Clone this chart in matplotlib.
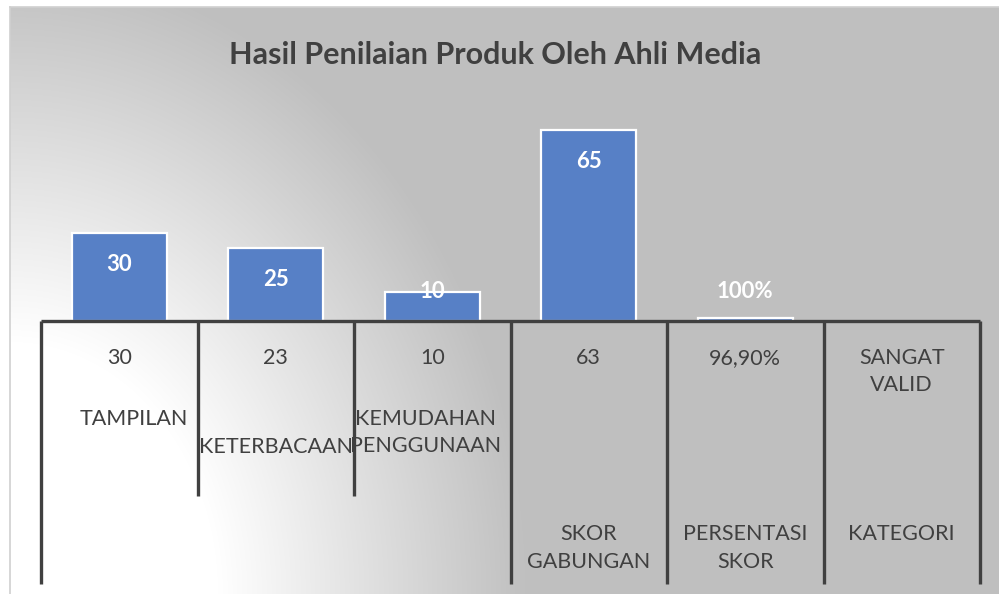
import numpy as np
import matplotlib
matplotlib.use("Agg")
from matplotlib import pyplot as plt

# data
bar_values = [30, 25, 10, 65, 1]
bar_labels = ["30", "25", "10", "65", "100%"]
row1 = ["30", "23", "10", "63", "96,90%", "SANGAT\nVALID"]
row2 = ["TAMPILAN", "KETERBACAAN", "KEMUDAHAN\nPENGGUNAAN"]
row3 = ["SKOR\nGABUNGAN", "PERSENTASI\nSKOR", "KATEGORI"]
title = "Hasil Penilaian Produk Oleh Ahli Media"

W, H = 999, 594
text_color = "#404040"
bar_color = "#5780C6"
plt.rcParams["font.family"] = ["Lato", "DejaVu Sans"]

fig = plt.figure(figsize=(W / 100, H / 100), dpi=100)
fig.patch.set_facecolor("white")


def px_box(x0, y0, x1, y1):
    # pixel box (top-left origin) -> figure fraction rect
    return [x0 / W, 1 - y1 / H, (x1 - x0) / W, (y1 - y0) / H]


# background gradient of the chart area
bg = fig.add_axes(px_box(10, 7, W, H), zorder=-5)
xs = np.arange(10, W) + 0.5
ys = np.arange(7, H) + 0.5
gx, gy = np.meshgrid(xs, ys)
r = np.sqrt(((gx - 10) / 520) ** 2 + ((H - gy) / 630) ** 2)
t = np.clip((r - 0.4) / 0.6, 0, 1)
shade = (255 - t * (255 - 191)) / 255
bg.imshow(np.dstack([shade, shade, shade]), aspect="auto", interpolation="bilinear")
bg.set_xticks([])
bg.set_yticks([])
for side in ["right", "bottom"]:
    bg.spines[side].set_visible(False)
for side in ["left", "top"]:
    bg.spines[side].set_color("#d0d0d0")
    bg.spines[side].set_linewidth(1.2)

# bar plot area
n_cat = len(row1)
ax = fig.add_axes(px_box(41, 321 - 70 * 2.94, 980, 321))
ax.set_facecolor("none")
x = np.arange(len(bar_values))
ax.bar(x, bar_values, width=0.61, color=bar_color, edgecolor="white", linewidth=1.6, zorder=2)
for xi, v, lab in zip(x, bar_values, bar_labels):
    ax.text(xi, max(v - 10.9, 9.9), lab, ha="center", va="center", color="white",
            fontsize=16, fontweight="bold", zorder=3)
ax.set_xlim(-0.5, n_cat - 0.5)
ax.set_ylim(0, 70)
ax.axis("off")

# multi-level category table under the bars
tab = fig.add_axes(px_box(41, 321, 980, 584))
tab.set_facecolor("none")
tab.set_xlim(-0.5, n_cat - 0.5)
tab.set_ylim(3, 0)
tab.axis("off")
lw = 2.4
tab.plot([-0.5, n_cat - 0.5], [0, 0], color=text_color, lw=lw, clip_on=False, solid_capstyle="butt")
for b in np.arange(n_cat + 1) - 0.5:
    bottom = 2 if b in (0.5, 1.5) else 3
    tab.plot([b, b], [0, bottom], color=text_color, lw=lw, clip_on=False, solid_capstyle="butt")

fs = 15.5
ls = 1.45
line_step = 28 / 88
for i, lab in enumerate(row1):
    tab.text(i, 0.31, lab, ha="center", va="top", fontsize=fs, color=text_color,
             linespacing=ls)
shift = [0, 1, 0]
nudge = [0.09, 0, -0.04]
for i, lab in enumerate(row2):
    tab.text(i + nudge[i], 1.0 + shift[i] * line_step, lab, ha="center", va="top",
             fontsize=fs, color=text_color, linespacing=ls)
for i, lab in enumerate(row3):
    tab.text(i + 3, 2.32, lab, ha="center", va="top", fontsize=fs, color=text_color,
             linespacing=ls)

fig.text(495 / W, 1 - 55 / H, title, ha="center", va="center", fontsize=22,
         fontweight="bold", color=text_color)

fig.savefig("out.png", dpi=100)
